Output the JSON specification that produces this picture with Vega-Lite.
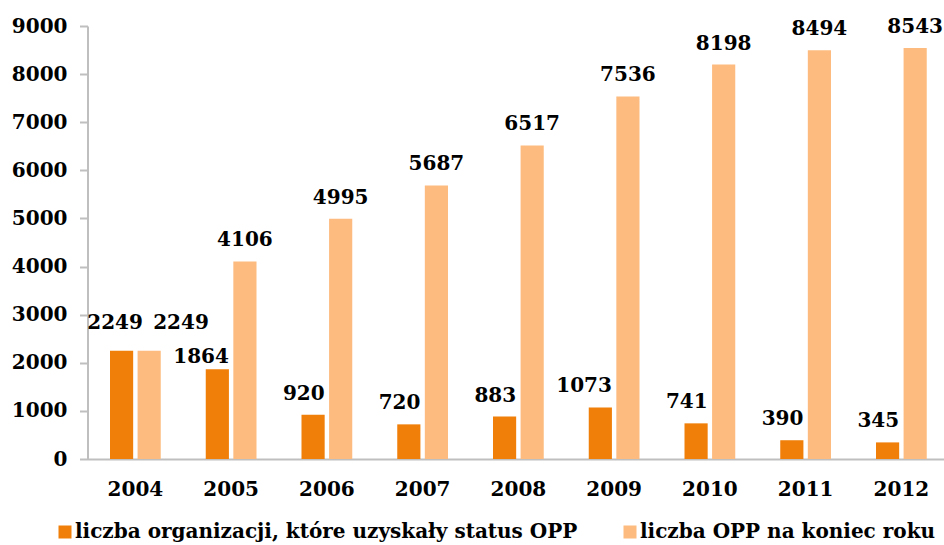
{
  "$schema": "https://vega.github.io/schema/vega-lite/v6.json",
  "width": 861.75,
  "height": 433,
  "autosize": "none",
  "padding": {"left": 87.5, "top": 26, "right": 0, "bottom": 86},
  "background": "white",
  "config": {"view": {"stroke": null}, "font": "DejaVu Serif"},
  "data": {
    "values": [
      {"year": 2004, "series": "liczba organizacji, które uzyskały status OPP", "value": 2249},
      {"year": 2005, "series": "liczba organizacji, które uzyskały status OPP", "value": 1864},
      {"year": 2006, "series": "liczba organizacji, które uzyskały status OPP", "value": 920},
      {"year": 2007, "series": "liczba organizacji, które uzyskały status OPP", "value": 720},
      {"year": 2008, "series": "liczba organizacji, które uzyskały status OPP", "value": 883},
      {"year": 2009, "series": "liczba organizacji, które uzyskały status OPP", "value": 1073},
      {"year": 2010, "series": "liczba organizacji, które uzyskały status OPP", "value": 741},
      {"year": 2011, "series": "liczba organizacji, które uzyskały status OPP", "value": 390},
      {"year": 2012, "series": "liczba organizacji, które uzyskały status OPP", "value": 345},
      {"year": 2004, "series": "liczba OPP na koniec roku", "value": 2249},
      {"year": 2005, "series": "liczba OPP na koniec roku", "value": 4106},
      {"year": 2006, "series": "liczba OPP na koniec roku", "value": 4995},
      {"year": 2007, "series": "liczba OPP na koniec roku", "value": 5687},
      {"year": 2008, "series": "liczba OPP na koniec roku", "value": 6517},
      {"year": 2009, "series": "liczba OPP na koniec roku", "value": 7536},
      {"year": 2010, "series": "liczba OPP na koniec roku", "value": 8198},
      {"year": 2011, "series": "liczba OPP na koniec roku", "value": 8494},
      {"year": 2012, "series": "liczba OPP na koniec roku", "value": 8543}
    ]
  },
  "encoding": {
    "x": {
      "field": "year",
      "type": "ordinal",
      "scale": {"paddingInner": 0.47, "paddingOuter": 0.235},
      "axis": {
        "title": null,
        "labelAngle": 0,
        "labelFont": "DejaVu Serif",
        "labelFontWeight": "bold",
        "labelFontSize": 20,
        "labelColor": "black",
        "labelPadding": 20,
        "ticks": false,
        "domainColor": "#BFBFBF",
        "domainWidth": 2,
        "grid": false
      }
    },
    "xOffset": {
      "field": "series",
      "type": "nominal",
      "sort": ["liczba organizacji, które uzyskały status OPP", "liczba OPP na koniec roku"],
      "scale": {"paddingInner": 0.16, "paddingOuter": 0}
    },
    "y": {
      "field": "value",
      "type": "quantitative",
      "scale": {"domain": [0, 9000], "nice": false},
      "axis": {
        "title": null,
        "values": [0, 1000, 2000, 3000, 4000, 5000, 6000, 7000, 8000, 9000],
        "format": "d",
        "grid": false,
        "labelFont": "DejaVu Serif",
        "labelFontWeight": "bold",
        "labelFontSize": 20,
        "labelColor": "black",
        "labelPadding": 12.5,
        "tickSize": 8,
        "tickColor": "#BFBFBF",
        "tickWidth": 2,
        "domainColor": "#BFBFBF",
        "domainWidth": 2
      }
    }
  },
  "layer": [
    {
      "mark": {"type": "bar"},
      "encoding": {
        "color": {
          "field": "series",
          "type": "nominal",
          "scale": {
            "domain": ["liczba organizacji, które uzyskały status OPP", "liczba OPP na koniec roku"],
            "range": ["#F07F09", "#FDBB7F"]
          },
          "legend": {
            "orient": "none",
            "legendX": -32.5,
            "legendY": 496,
            "direction": "horizontal",
            "title": null,
            "symbolType": "square",
            "symbolSize": 169,
            "symbolStrokeWidth": 0,
            "symbolOpacity": 1,
            "labelFont": "DejaVu Serif",
            "labelFontWeight": "bold",
            "labelFontSize": 20,
            "labelColor": "black",
            "labelOffset": 0,
            "columnPadding": 42,
            "labelLimit": 1000
          }
        }
      }
    },
    {
      "transform": [{"filter": "datum.series == 'liczba organizacji, które uzyskały status OPP' && datum.year != 2004 && datum.year != 2005"}],
      "mark": {"type": "text", "align": "right", "baseline": "alphabetic", "dx": 11.6, "dy": -15, "font": "DejaVu Serif", "fontWeight": "bold", "fontSize": 20, "color": "black"},
      "encoding": {"text": {"field": "value", "type": "quantitative", "format": "d"}}
    },
    {
      "transform": [{"filter": "datum.series == 'liczba organizacji, które uzyskały status OPP' && datum.year == 2005"}],
      "mark": {"type": "text", "align": "right", "baseline": "alphabetic", "dx": 11.6, "dy": -6, "font": "DejaVu Serif", "fontWeight": "bold", "fontSize": 20, "color": "black"},
      "encoding": {"text": {"field": "value", "type": "quantitative", "format": "d"}}
    },
    {
      "transform": [{"filter": "datum.series == 'liczba OPP na koniec roku' && datum.year != 2004"}],
      "mark": {"type": "text", "align": "center", "baseline": "alphabetic", "dy": -15, "font": "DejaVu Serif", "fontWeight": "bold", "fontSize": 20, "color": "black"},
      "encoding": {"text": {"field": "value", "type": "quantitative", "format": "d"}}
    },
    {
      "transform": [{"filter": "datum.series == 'liczba organizacji, które uzyskały status OPP' && datum.year == 2004"}],
      "mark": {"type": "text", "align": "right", "baseline": "alphabetic", "dx": 21.3, "dy": -22, "font": "DejaVu Serif", "fontWeight": "bold", "fontSize": 20, "color": "black"},
      "encoding": {"text": {"field": "value", "type": "quantitative", "format": "d"}}
    },
    {
      "transform": [{"filter": "datum.series == 'liczba OPP na koniec roku' && datum.year == 2004"}],
      "mark": {"type": "text", "align": "left", "baseline": "alphabetic", "dx": 4, "dy": -22, "font": "DejaVu Serif", "fontWeight": "bold", "fontSize": 20, "color": "black"},
      "encoding": {"text": {"field": "value", "type": "quantitative", "format": "d"}}
    }
  ]
}
